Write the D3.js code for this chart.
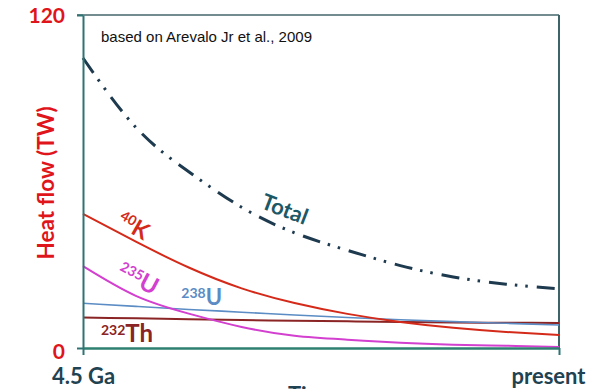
<!DOCTYPE html>
<html>
<head>
<meta charset="utf-8">
<script src="https://cdn.jsdelivr.net/npm/d3@7"></script>
<style>
body { margin: 0; background: #fff; }
svg { display: block; }
</style>
</head>
<body>
<svg width="600" height="389"></svg>
<script>
// time before present, Ga
var times = [4.5, 4.0, 3.5, 3.0, 2.5, 2.0, 1.5, 1.0, 0.5, 0];
// heat flow, TW
var total = [104.5, 79.5, 63.5, 50.7, 41.5, 35.2, 29.7, 25.6, 23.0, 21.3];
var k40   = [48.3, 38.3, 29.0, 21.5, 16.2, 12.3, 9.4, 7.3, 5.8, 4.7];
var u235  = [29.5, 18.8, 12.4, 7.6, 4.4, 3.0, 1.9, 1.2, 0.8, 0.4];
var u238  = [16.1, 15.0, 13.9, 12.9, 11.9, 11.0, 10.2, 9.5, 8.9, 8.3];
var th232 = [11.0, 10.7, 10.4, 10.1, 9.8, 9.6, 9.4, 9.2, 9.1, 9.0];

var yTicks = [0, 120];
var xTicks = [4.5, 0];
var xTickLabels = ["4.5 Ga", "present"];

var svg = d3.select("svg"),
    margin = {top: 15, right: 41, bottom: 41, left: 83},
    width = +svg.attr("width") - margin.left - margin.right,
    height = +svg.attr("height") - margin.top - margin.bottom,
    g = svg.append("g").attr("transform", "translate(" + margin.left + "," + margin.top + ")");

var font = "Lato, 'Open Sans', sans-serif";

var x = d3.scaleLinear().domain([4.5, 0]).range([0, width]);
var y = d3.scaleLinear().domain([0, 120]).range([height, 0]);

var line = d3.line()
    .curve(d3.curveNatural)
    .x(function(d) { return x(d[0]); })
    .y(function(d) { return y(d[1]); });

function pares(vals) {
  return times.map(function(t, i) { return [t, vals[i]]; });
}

// marco arriba y derecha
g.append("line")
    .attr("x1", -6).attr("x2", width)
    .attr("y1", 0).attr("y2", 0)
    .attr("stroke", "#44666b").attr("stroke-width", 1.6);
g.append("line")
    .attr("x1", width).attr("x2", width)
    .attr("y1", 0).attr("y2", height)
    .attr("stroke", "#3d6468").attr("stroke-width", 2);

// series
var series = [
  {vals: th232, color: "#8b2424", w: 2},
  {vals: u238,  color: "#5b8cc4", w: 1.6},
  {vals: u235,  color: "#d33fcf", w: 2},
  {vals: k40,   color: "#d42a1a", w: 2}
];
series.forEach(function(s) {
  g.append("path")
      .attr("d", line(pares(s.vals)))
      .attr("fill", "none")
      .attr("stroke", s.color)
      .attr("stroke-width", s.w);
});

g.append("path")
    .attr("d", line(pares(total)))
    .attr("fill", "none")
    .attr("stroke", "#1e3a4f")
    .attr("stroke-width", 3)
    .attr("stroke-dasharray", "18,8,2.5,8,2.5,9");

// ejes
var yAxis = g.append("g")
    .call(d3.axisLeft(y).tickValues(yTicks).tickSize(6).tickSizeOuter(0).tickPadding(12));
yAxis.select(".domain").attr("stroke", "#2f7373").attr("stroke-width", 2);
yAxis.selectAll(".tick line").attr("stroke", "#2f7373").attr("stroke-width", 2);
yAxis.selectAll(".tick text")
    .attr("fill", "#e0141b")
    .style("font", "bold 21px " + font)
    .attr("dy", function(d) { return d === 0 ? "0.5em" : "0.34em"; });

var xAxis = g.append("g")
    .attr("transform", "translate(0," + height + ")")
    .call(d3.axisBottom(x).tickValues(xTicks).tickSize(7).tickSizeOuter(0).tickPadding(13)
      .tickFormat(function(d, i) { return xTickLabels[i]; }));
xAxis.select(".domain").attr("stroke", "#2e8070").attr("stroke-width", 2.4);
xAxis.selectAll(".tick line").attr("stroke", "#2f7373").attr("stroke-width", 2);
xAxis.selectAll(".tick text")
    .attr("fill", "#1f4352")
    .style("font", "bold 22px " + font)
    .attr("dx", function(d) { return d === 0 ? -11 : 0; });

// titulos de ejes
svg.append("text")
    .attr("transform", "translate(54,183) rotate(-90)")
    .attr("text-anchor", "middle")
    .attr("fill", "#e0141b")
    .style("font", "bold 22.5px " + font)
    .text("Heat flow (TW)");

svg.append("text")
    .attr("x", 288).attr("y", 403)
    .attr("fill", "#1f4352")
    .style("font", "bold 22px " + font)
    .text("Time");

// nota de fuente
g.append("text")
    .attr("x", 18).attr("y", 27)
    .attr("fill", "#111")
    .style("font", "15px 'Liberation Sans', Arial, sans-serif")
    .text("based on Arevalo Jr et al., 2009");

// etiquetas de curvas
g.append("text")
    .attr("transform", "translate(" + x(2.83) + "," + y(50.5) + ") rotate(21)")
    .attr("fill", "#1d5866")
    .style("font", "bold 22px " + font)
    .text("Total");

function isotopo(mass, sym, color, tx, ty, rot, bigSize) {
  var t = g.append("text")
      .attr("transform", "translate(" + tx + "," + ty + ") rotate(" + rot + ")")
      .attr("fill", color)
      .style("font-family", font)
      .style("font-weight", "bold");
  t.append("tspan").attr("font-size", 14).attr("dy", -7).text(mass);
  t.append("tspan").attr("font-size", bigSize).attr("dy", 7).text(sym);
}

isotopo("40", "K", "#d42a1a", x(4.19), y(44.5), 30, 23);
isotopo("235", "U", "#d33fcf", x(4.19), y(26.0), 28, 24);
isotopo("238", "U", "#5b8cc4", x(3.57), y(15.5), 0, 22);
isotopo("232", "Th", "#8b2424", x(4.33), y(2.0), 0, 24);
</script>
</body>
</html>
